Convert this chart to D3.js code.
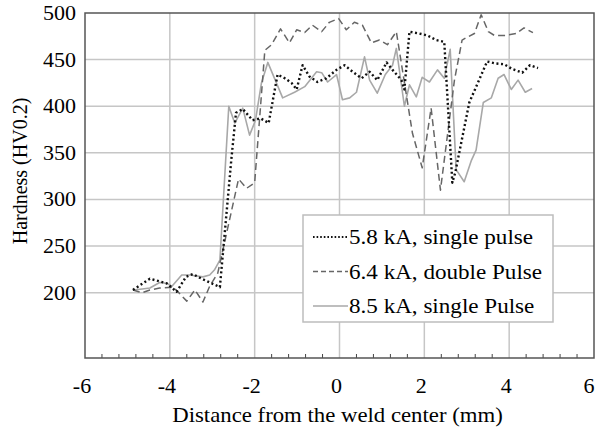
<!DOCTYPE html>
<html>
<head>
<meta charset="utf-8">
<script src="https://cdn.jsdelivr.net/npm/d3@7"></script>
<style>
  body { margin: 0; background: #fff; }
  svg text { font-family: "Liberation Serif", "DejaVu Serif", "Times New Roman", Times, serif; }
</style>
</head>
<body>
<svg id="chart" width="598" height="430"></svg>
<script>
// Hardness profile across the weld, three welding conditions

// ---------------------------------------------------------------------------
// DATA
// ---------------------------------------------------------------------------

const SERIES_NAMES = ['5.8 kA, single pulse', '6.4 kA, double Pulse', '8.5 kA, single Pulse'];

const DIST_58 = [-4.87, -4.47, -4.07, -3.84, -3.62, -3.46, -3.25, -2.82, -2.55, -2.44, -2.28, -2.05, -1.86, -1.67,
  -1.46, -1.29, -1.13, -1.01, -0.87, -0.71, -0.52, -0.31, -0.07, 0.12, 0.31, 0.52, 0.71, 0.89,
  1.11, 1.25, 1.46, 1.53, 1.65, 1.88, 2.07, 2.28, 2.47, 2.66, 2.73, 3.06, 3.48, 3.67, 3.88,
  4.07, 4.31, 4.49, 4.68];
const HV_58 = [203, 215, 210, 201, 217, 220, 215, 206, 343, 393, 397, 385, 387, 382,
  434, 430, 425, 418, 444, 432, 426, 430, 439, 444, 437, 430, 437, 428,
  447, 439, 428, 418, 480, 478, 476, 471, 469, 318, 329, 404, 448, 446, 445,
  440, 436, 444, 441];

const DIST_64 = [-4.87, -4.65, -4.47, -4.24, -3.93, -3.81, -3.6, -3.41, -3.22, -3.06, -2.87, -2.38, -2.19, -2.0,
  -1.76, -1.6, -1.39, -1.18, -1.01, -0.82, -0.64, -0.42, -0.24, -0.02, 0.16, 0.35, 0.54, 0.75,
  0.94, 1.13, 1.34, 1.72, 1.95, 2.16, 2.38, 2.71, 2.89, 3.01, 3.18, 3.34, 3.51, 3.65, 3.93,
  4.16, 4.35, 4.56];
const HV_64 = [203, 200, 203, 205, 206, 201, 191, 203, 190, 207, 221, 322, 312, 318,
  460, 466, 483, 468, 482, 479, 487, 480, 490, 494, 482, 490, 487, 468,
  471, 466, 480, 371, 334, 398, 310, 428, 471, 474, 478, 498, 480, 476, 476,
  478, 484, 479];

const DIST_85 = [-4.87, -4.65, -4.47, -4.24, -4.07, -3.95, -3.72, -3.53, -3.22, -3.06, -2.94, -2.82, -2.61, -2.47,
  -2.28, -2.12, -1.98, -1.84, -1.69, -1.34, -1.06, -0.82, -0.54, -0.42, -0.28, -0.07, 0.07, 0.24,
  0.40, 0.59, 0.71, 0.89, 1.08, 1.25, 1.34, 1.53, 1.65, 1.81, 1.95, 2.12, 2.31, 2.47, 2.61,
  2.75, 2.94, 3.11, 3.22, 3.39, 3.58, 3.74, 3.88, 4.05, 4.21, 4.38, 4.54];
const HV_85 = [203, 204, 205, 211, 210, 207, 219, 219, 217, 219, 225, 235, 400, 382,
  398, 369, 385, 425, 447, 409, 415, 421, 437, 436, 426, 434, 407, 409,
  415, 453, 428, 414, 434, 444, 462, 400, 423, 410, 431, 426, 439, 430, 461,
  332, 319, 342, 353, 404, 409, 430, 434, 418, 428, 415, 419];

const X_TICKS = [-6, -4, -2, 0, 2, 4, 6];
const Y_TICKS = [200, 250, 300, 350, 400, 450, 500];

// ---------------------------------------------------------------------------
// SCALES
// ---------------------------------------------------------------------------

const svg = d3.select('#chart');
const plotL = 85, plotR = 594, plotT = 13, plotB = 358;

const x = d3.scaleLinear().domain([-6, 6]).range([plotL, plotR]);
const y = d3.scaleLinear().domain([130, 500]).range([plotB, plotT]);

const STRETCH = 'scale(1.1,1)';

// gridlines
svg.append('g')
  .selectAll('line')
  .data(X_TICKS.slice(1, -1))
  .join('line')
  .attr('x1', d => x(d)).attr('x2', d => x(d))
  .attr('y1', plotT).attr('y2', plotB)
  .attr('stroke', '#c6c6c6').attr('stroke-width', 1.5);

svg.append('g')
  .selectAll('line')
  .data(Y_TICKS.slice(0, -1))
  .join('line')
  .attr('x1', plotL).attr('x2', plotR)
  .attr('y1', d => y(d)).attr('y2', d => y(d))
  .attr('stroke', '#c6c6c6').attr('stroke-width', 1.5);

// minor ticks along the bottom, pointing up
const minor = d3.range(-6, 6.001, 0.4).filter(v => Math.abs(v / 2 - Math.round(v / 2)) > 0.01);
svg.append('g')
  .selectAll('line')
  .data(minor)
  .join('line')
  .attr('x1', d => x(d)).attr('x2', d => x(d))
  .attr('y1', plotB).attr('y2', plotB - 4)
  .attr('stroke', '#444').attr('stroke-width', 1);

// ---------------------------------------------------------------------------
// LINES
// ---------------------------------------------------------------------------

const line = d3.line().x(d => x(d[0])).y(d => y(d[1]));

const STYLES = [
  { dist: DIST_58, hv: HV_58, stroke: '#111', width: 2.4, dash: '2,2.6' },
  { dist: DIST_64, hv: HV_64, stroke: '#666', width: 1.5, dash: '7,4' },
  { dist: DIST_85, hv: HV_85, stroke: '#a8a8a8', width: 1.6, dash: null }
];

// draw solid first, dotted on top
[2, 1, 0].forEach(i => {
  const s = STYLES[i];
  svg.append('path')
    .datum(s.dist.map((d, k) => [d, s.hv[k]]))
    .attr('d', line)
    .attr('fill', 'none')
    .attr('stroke', s.stroke)
    .attr('stroke-width', s.width)
    .attr('stroke-dasharray', s.dash)
    .attr('stroke-linejoin', 'round');
});

// frame
svg.append('rect')
  .attr('x', plotL).attr('y', plotT)
  .attr('width', plotR - plotL).attr('height', plotB - plotT)
  .attr('fill', 'none').attr('stroke', '#555').attr('stroke-width', 1.5);

// ---------------------------------------------------------------------------
// AXIS LABELS
// ---------------------------------------------------------------------------

svg.append('g')
  .selectAll('text')
  .data(X_TICKS)
  .join('text')
  .attr('transform', d => `translate(${Math.min(x(d) - 3, 589)},393) ${STRETCH}`)
  .attr('text-anchor', 'middle')
  .attr('font-size', 20)
  .text(d => d);

svg.append('g')
  .selectAll('text')
  .data(Y_TICKS)
  .join('text')
  .attr('transform', d => `translate(76,${y(d) + 7}) ${STRETCH}`)
  .attr('text-anchor', 'end')
  .attr('font-size', 20)
  .text(d => d);

svg.append('text')
  .attr('transform', `translate(${(plotL + plotR) / 2 - 2},422) ${STRETCH}`)
  .attr('text-anchor', 'middle')
  .attr('font-size', 20.7)
  .text('Distance from the weld center (mm)');

svg.append('text')
  .attr('transform', 'translate(27,171) rotate(-90)')
  .attr('text-anchor', 'middle')
  .attr('font-size', 20)
  .text('Hardness (HV0.2)');

// ---------------------------------------------------------------------------
// LEGEND
// ---------------------------------------------------------------------------

const lg = svg.append('g');
lg.append('rect')
  .attr('x', 303).attr('y', 215).attr('width', 250).attr('height', 107)
  .attr('fill', '#fff').attr('stroke', '#bdbdbd').attr('stroke-width', 1.5);

SERIES_NAMES.forEach((name, i) => {
  const s = STYLES[i];
  const cy = 237 + i * 34.5;
  lg.append('line')
    .attr('x1', 313).attr('x2', 348)
    .attr('y1', cy).attr('y2', cy)
    .attr('stroke', s.stroke)
    .attr('stroke-width', i === 0 ? 1.8 : 1.3)
    .attr('stroke-dasharray', i === 0 ? '1.6,2' : (i === 1 ? '5,3' : null));
  lg.append('text')
    .attr('transform', `translate(349,${cy + 7}) ${STRETCH}`)
    .attr('font-size', 21)
    .text(name);
});
</script>
</body>
</html>
